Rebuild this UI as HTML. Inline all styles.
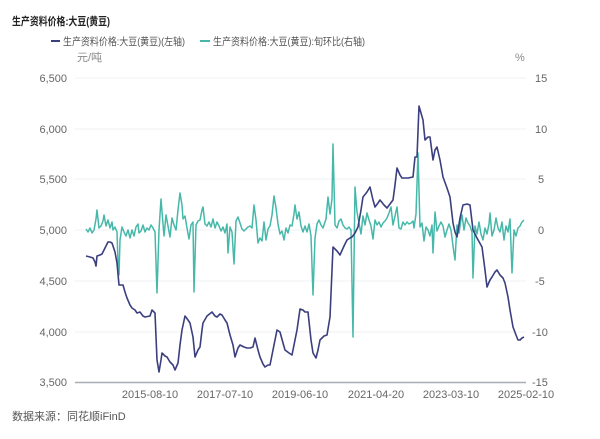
<!DOCTYPE html>
<html><head><meta charset="utf-8"><style>
body{margin:0;background:#fff;}
svg{display:block;font-family:"Liberation Sans","Noto Sans CJK SC",sans-serif;}
</style></head><body>
<svg width="600" height="439" viewBox="0 0 600 439">
<rect width="600" height="439" fill="#fff"/>
<text x="12" y="25" font-size="11" font-weight="bold" fill="#222" textLength="98" lengthAdjust="spacingAndGlyphs">生产资料价格:大豆(黄豆)</text>
<line x1="51" y1="41" x2="60" y2="41" stroke="#3b3f7e" stroke-width="2"/>
<text x="63" y="45" font-size="10.5" fill="#555" textLength="122" lengthAdjust="spacingAndGlyphs">生产资料价格:大豆(黄豆)(左轴)</text>
<line x1="200" y1="41" x2="210" y2="41" stroke="#46b8a9" stroke-width="2"/>
<text x="213" y="45" font-size="10.5" fill="#555" textLength="152" lengthAdjust="spacingAndGlyphs">生产资料价格:大豆(黄豆):旬环比(右轴)</text>
<text x="77" y="61" font-size="11" fill="#888">元/吨</text>
<text x="515" y="61" font-size="11" fill="#888">%</text>
<g stroke="#eef0f3" stroke-width="1">
<line x1="75" y1="78" x2="526" y2="78"/><line x1="75" y1="129" x2="526" y2="129"/>
<line x1="75" y1="179" x2="526" y2="179"/><line x1="75" y1="230" x2="526" y2="230"/>
<line x1="75" y1="281" x2="526" y2="281"/><line x1="75" y1="332" x2="526" y2="332"/>
</g>
<line x1="75" y1="382.5" x2="526" y2="382.5" stroke="#a9adb8" stroke-width="1.5"/>
<g font-size="11" fill="#666" text-anchor="end">
<text x="67" y="82">6,500</text><text x="67" y="133">6,000</text><text x="67" y="183">5,500</text>
<text x="67" y="234">5,000</text><text x="67" y="285">4,500</text><text x="67" y="336">4,000</text><text x="67" y="386">3,500</text>
</g>
<g font-size="11" fill="#666" text-anchor="start">
<text x="535" y="82">15</text><text x="535" y="133">10</text><text x="538" y="183">5</text>
<text x="538" y="234">0</text><text x="535" y="285">-5</text><text x="532" y="336">-10</text><text x="532" y="386">-15</text>
</g>
<g font-size="11" fill="#666" text-anchor="middle">
<text x="150" y="398">2015-08-10</text><text x="225" y="398">2017-07-10</text><text x="300" y="398">2019-06-10</text>
<text x="376" y="398">2021-04-20</text><text x="451" y="398">2023-03-10</text><text x="526" y="398">2025-02-10</text>
</g>
<polyline fill="none" stroke="#46b8a9" stroke-width="1.5" stroke-linejoin="round" points="86,229 88,232 90,228 92,233 94,230 96,219 97,210 99,228 101,226 103,221 104,215 106,226 108,220 110,228 112,222 113,230 115,227 117,232 118,262 119,275 120,240 122,227 124,232 126,236 128,230 130,238 132,230 134,236 136,227 138,224 139,233 141,231 143,225 145,232 147,228 149,230 151,225 153,228 155,232 157,293 159,230 161,199 163,224 164,236 166,215 168,226 170,237 172,218 174,225 176,230 178,210 180,193 182,205 183,219 185,216 187,228 189,239 191,225 193,222 194,292 196,225 198,221 200,220 202,210 203,207 205,224 207,226 209,222 211,227 213,219 215,228 217,222 219,226 221,231 223,227 225,233 227,224 228,253 230,227 232,232 234,264 236,221 238,217 240,223 242,229 244,231 246,229 248,227 250,226 252,228 254,205 256,220 258,243 260,238 262,241 264,222 266,240 268,229 270,226 272,215 274,196 276,208 278,224 280,234 282,231 284,240 286,228 288,233 290,225 292,226 294,214 295,205 297,219 299,212 301,226 303,232 305,226 307,232 309,224 311,236 313,295 315,238 317,224 319,220 321,225 323,228 325,222 326,219 328,197 330,214 332,199 333,144 335,225 337,228 339,221 341,219 343,225 345,228 347,229 349,227 351,230 353,337 355,187 357,212 359,223 361,234 363,216 365,225 367,213 369,220 371,226 373,239 375,220 377,225 379,222 381,227 383,223 385,221 387,218 389,213 391,207 393,225 395,216 397,207 399,228 401,229 403,222 405,225 407,222 409,224 411,223 413,221 414,228 416,214 418,153 420,227 422,223 424,241 426,227 428,230 430,236 432,225 433,253 435,212 437,231 439,226 441,222 443,226 445,237 447,230 449,224 451,230 453,246 455,260 457,225 459,233 461,219 462,215 464,230 466,218 468,223 470,226 472,232 473,278 475,226 477,234 479,222 481,234 483,240 485,228 487,234 489,224 490,213 492,236 494,230 496,218 498,228 500,232 502,222 504,240 506,226 508,232 510,219 512,273 514,230 516,236 518,228 520,226 522,222 524,220"/>
<polyline fill="none" stroke="#3b3f7e" stroke-width="1.6" stroke-linejoin="round" points="86,256 90,257 93,258 95,262 96,266 97,256 100,255 102,254 105,248 108,242 110,242 112,243 115,252 117,263 119,285 123,285 125,292 127,298 130,305 132,308 135,310 137,313 140,312 143,316 145,317 150,316 152,310 155,313 157,360 159,372 161,360 162,353 165,356 167,357 170,362 173,365 175,370 178,363 180,345 182,330 185,316 188,320 190,323 193,337 195,357 198,350 200,347 202,330 203,323 207,316 212,312 215,316 217,317 220,314 222,315 225,320 227,323 230,335 233,345 235,357 238,348 240,345 244,347 247,348 250,348 253,347 255,338 258,350 260,357 263,364 265,367 268,365 270,365 273,350 277,330 280,332 283,343 285,350 289,353 292,355 295,340 297,330 300,309 303,310 305,312 308,312 311,340 313,353 316,358 318,350 320,340 324,336 327,335 330,317 333,247 337,251 340,255 344,246 347,240 350,238 352,237 355,233 358,227 361,210 363,197 367,192 370,187 373,200 375,207 378,203 380,200 384,205 387,208 390,204 393,200 395,185 397,168 400,175 402,178 408,178 413,177 415,157 417,157 419,106 421,113 423,120 425,140 428,137 430,137 433,160 435,150 437,147 440,160 443,177 447,188 450,197 453,223 455,232 457,237 460,218 463,205 467,204 470,205 473,230 477,238 482,247 485,270 487,287 490,280 492,277 495,272 497,270 500,275 503,278 505,283 508,297 510,310 513,327 516,335 518,340 520,340 522,338 524,337"/>
<text x="12" y="420" font-size="11" fill="#555">数据来源：同花顺iFinD</text>
</svg>
</body></html>
